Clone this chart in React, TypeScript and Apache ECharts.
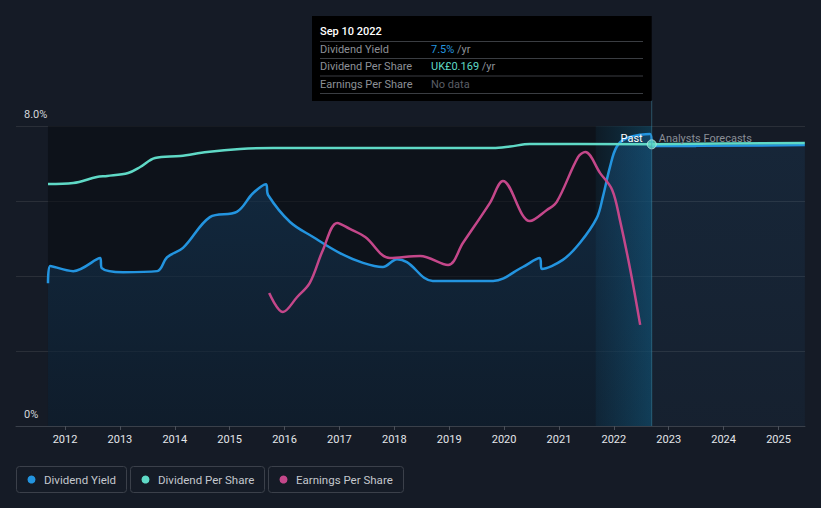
import React, { useEffect, useRef } from "react";
import * as echarts from "echarts";

const yearTicks = [2012, 2013, 2014, 2015, 2016, 2017, 2018, 2019, 2020, 2021, 2022, 2023, 2024, 2025];
const yieldTicks = [0, 2, 4, 6, 8];

// Dividend Yield (%)
const yieldPast: [number, number][] = [
  [2011.69, 3.81], [2011.73, 4.27], [2012.15, 4.13], [2012.64, 4.48], [2012.67, 4.21],
  [2013.06, 4.1], [2013.68, 4.13], [2013.86, 4.5], [2014.15, 4.75], [2014.64, 5.57],
  [2015.13, 5.71], [2015.42, 6.2], [2015.66, 6.45], [2015.7, 6.16], [2016.1, 5.44],
  [2016.52, 5.04], [2017.01, 4.61], [2017.43, 4.35], [2017.79, 4.24], [2018.05, 4.45],
  [2018.23, 4.37], [2018.7, 3.87], [2019.8, 3.87], [2020.34, 4.24], [2020.65, 4.48],
  [2020.69, 4.19], [2021.07, 4.43], [2021.38, 4.88], [2021.69, 5.55], [2021.8, 6.11],
  [2021.93, 6.91], [2022.05, 7.44], [2022.24, 7.68], [2022.66, 7.79], [2022.69, 7.5],
];
const yieldForecast: [number, number][] = [
  [2022.69, 7.47], [2023.5, 7.47], [2025.48, 7.49],
];

// Dividend Per Share (GBP)
const dpsPast: [number, number][] = [
  [2011.69, 0.1452], [2012.15, 0.1458], [2012.58, 0.1494], [2012.77, 0.15], [2013.15, 0.1518],
  [2013.37, 0.1554], [2013.64, 0.1608], [2014.1, 0.162], [2014.59, 0.1644], [2015.19, 0.1662],
  [2015.79, 0.1668], [2019.8, 0.1668], [2020.11, 0.1677], [2020.47, 0.1692], [2022.69, 0.169],
];
const dpsForecast: [number, number][] = [
  [2022.69, 0.169], [2024.0, 0.1695], [2025.48, 0.1698],
];

// Earnings Per Share (GBP)
const epsPast: [number, number][] = [
  [2015.72, 0.0443], [2015.97, 0.038], [2016.23, 0.043], [2016.46, 0.0477], [2016.7, 0.0587],
  [2016.96, 0.0677], [2017.19, 0.0657], [2017.47, 0.063], [2017.92, 0.056], [2018.47, 0.0567],
  [2018.98, 0.0537], [2019.25, 0.061], [2019.74, 0.0743], [2019.98, 0.0817], [2020.47, 0.0683],
  [2020.78, 0.072], [2020.96, 0.0747], [2021.35, 0.0897], [2021.48, 0.0913], [2021.75, 0.0843],
  [2021.97, 0.0787], [2022.11, 0.0687], [2022.3, 0.052], [2022.48, 0.0337],
];

const pastStart = 2011.69;
const forecastZoneStart = 2021.67;
const nowX = 2022.69;
const nowDps = 0.169;

const BLUE = "#2394df";
const TEAL = "#5fd9c6";
const PINK = "#c4478a";
const FONT = "Roboto, 'Noto Sans', sans-serif";

export default function App() {
  const ref = useRef<HTMLDivElement>(null);
  useEffect(() => {
    if (!ref.current) return;
    const chart = echarts.init(ref.current, undefined, { renderer: "svg" });
    const areaGrad = new echarts.graphic.LinearGradient(0, 0, 0, 1, [
      { offset: 0, color: "rgba(35,125,200,0.32)" },
      { offset: 1, color: "rgba(35,125,200,0.14)" },
    ]);
    const areaGrad2 = new echarts.graphic.LinearGradient(0, 0, 0, 1, [
      { offset: 0, color: "rgba(35,125,200,0.16)" },
      { offset: 1, color: "rgba(35,125,200,0.08)" },
    ]);
    const zoneGrad = new echarts.graphic.LinearGradient(0, 0, 1, 0, [
      { offset: 0, color: "rgba(20,130,180,0.08)" },
      { offset: 1, color: "rgba(20,140,190,0.30)" },
    ]);
    chart.setOption({
      animation: false,
      backgroundColor: "#151b26",
      textStyle: { fontFamily: FONT },
      grid: { left: 16, right: 16, top: 126, bottom: 82 },
      xAxis: {
        type: "value",
        min: 2011.107,
        max: 2025.483,
        axisLine: { show: true, lineStyle: { color: "#3a404a", width: 1 } },
        axisTick: { show: true, length: 4, lineStyle: { color: "#4a505a" }, customValues: yearTicks },
        axisLabel: {
          customValues: yearTicks,
          color: "#e4e6ea",
          fontSize: 11,
          margin: 8,
          fontFamily: FONT,
          formatter: (v: number) => String(Math.round(v)),
        },
        splitLine: { show: false },
      },
      yAxis: [
        {
          type: "value",
          min: 0,
          max: 8,
          interval: 2,
          axisLine: { show: false },
          axisTick: { show: false },
          splitLine: { show: true, lineStyle: { color: "#2a2f38", width: 1 } },
          axisLabel: {
            inside: true,
            margin: 8,
            color: "#d4d6da",
            fontSize: 11,
            verticalAlign: "bottom",
            padding: [0, 0, 6, 0],
            formatter: (v: number) => (v === 8 ? "8.0%" : v === 0 ? "0%" : ""),
          },
        },
        { type: "value", min: 0, max: 0.18, show: false },
        { type: "value", min: 0, max: 0.1, show: false },
      ],
      series: [
        {
          type: "line",
          name: "zones",
          data: [],
          z: 1,
          silent: true,
          markArea: {
            silent: true,
            data: [
              [{ xAxis: pastStart, itemStyle: { color: "rgba(8,11,16,0.55)" } }, { xAxis: nowX }],
              [{ xAxis: forecastZoneStart, itemStyle: { color: zoneGrad } }, { xAxis: nowX }],
            ],
          },
        },
        {
          type: "line",
          name: "Dividend Yield",
          data: yieldPast,
          yAxisIndex: 0,
          smooth: 0.35,
          symbol: "none",
          z: 3,
          lineStyle: { color: BLUE, width: 2.5 },
          areaStyle: { color: areaGrad },
        },
        {
          type: "line",
          name: "Dividend Yield Forecast",
          data: yieldForecast,
          yAxisIndex: 0,
          symbol: "none",
          z: 3,
          lineStyle: { color: BLUE, width: 2.5 },
          areaStyle: { color: areaGrad2 },
        },
        {
          type: "line",
          name: "Dividend Per Share",
          data: dpsPast,
          yAxisIndex: 1,
          smooth: 0.35,
          symbol: "none",
          z: 4,
          lineStyle: { color: TEAL, width: 2.5 },
        },
        {
          type: "line",
          name: "Dividend Per Share Forecast",
          data: dpsForecast,
          yAxisIndex: 1,
          symbol: "none",
          z: 4,
          lineStyle: { color: TEAL, width: 2.5 },
        },
        {
          type: "line",
          name: "Earnings Per Share",
          data: epsPast,
          yAxisIndex: 2,
          smooth: 0.35,
          symbol: "none",
          z: 4,
          lineStyle: { color: PINK, width: 2.5 },
        },
        {
          type: "scatter",
          data: [[nowX, nowDps]],
          yAxisIndex: 1,
          symbolSize: 9,
          z: 6,
          itemStyle: { color: TEAL, borderColor: "#bfeee6", borderWidth: 1 },
        },
      ],
    });

    const px = chart.convertToPixel({ xAxisIndex: 0 }, nowX) as number;
    const legendItems = [
      { label: "Dividend Yield", color: BLUE, x: 16, w: 110 },
      { label: "Dividend Per Share", color: TEAL, x: 130, w: 134 },
      { label: "Earnings Per Share", color: PINK, x: 268, w: 135 },
    ];
    const rows = [
      { label: "Dividend Yield", value: "7.5%", valueColor: BLUE, unit: " /yr", y: 49 },
      { label: "Dividend Per Share", value: "UK£0.169", valueColor: TEAL, unit: " /yr", y: 66.5 },
      { label: "Earnings Per Share", value: "No data", valueColor: "#5a5e66", unit: "", y: 84 },
    ];
    const graphics: any[] = [
      {
        type: "line",
        z: 50,
        shape: { x1: px, y1: 100, x2: px, y2: 426 },
        style: { stroke: "rgba(70,150,180,0.45)", lineWidth: 1 },
      },
      {
        type: "text",
        z: 50,
        x: px - 9,
        y: 138,
        style: { text: "Past", fill: "#ffffff", fontSize: 11, fontFamily: FONT, align: "right", verticalAlign: "middle" },
      },
      {
        type: "text",
        z: 50,
        x: px + 7,
        y: 138,
        style: { text: "Analysts Forecasts", fill: "#8a8e96", fontSize: 11, fontFamily: FONT, align: "left", verticalAlign: "middle" },
      },
      {
        type: "rect",
        z: 60,
        shape: { x: 312, y: 16, width: px - 312, height: 85 },
        style: { fill: "#000000" },
      },
      {
        type: "text",
        z: 61,
        x: 320,
        y: 31,
        style: { text: "Sep 10 2022", fill: "#ffffff", fontSize: 11, fontWeight: 500, fontFamily: FONT, verticalAlign: "middle" },
      },
    ];
    [41.5, 58.5, 76, 93.5].forEach((y) => {
      graphics.push({
        type: "line",
        z: 61,
        shape: { x1: 320, y1: y, x2: 643, y2: y },
        style: { stroke: "#3a3d42", lineWidth: 1 },
      });
    });
    rows.forEach((r) => {
      graphics.push({
        type: "text",
        z: 61,
        x: 320,
        y: r.y,
        style: { text: r.label, fill: "#8d9097", fontSize: 11, fontFamily: FONT, verticalAlign: "middle" },
      });
      graphics.push({
        type: "text",
        z: 61,
        x: 431,
        y: r.y,
        style: {
          text: `{v|${r.value}}{u|${r.unit}}`,
          fontFamily: FONT,
          verticalAlign: "middle",
          rich: {
            v: { fill: r.valueColor, fontSize: 11, fontFamily: FONT },
            u: { fill: "#8d9097", fontSize: 11, fontFamily: FONT },
          },
        },
      });
    });
    legendItems.forEach((l) => {
      graphics.push({
        type: "rect",
        z: 40,
        shape: { x: l.x + 0.5, y: 466.5, width: l.w, height: 26, r: 3 },
        style: { fill: "transparent", stroke: "#3b404a", lineWidth: 1 },
      });
      graphics.push({
        type: "circle",
        z: 41,
        shape: { cx: l.x + 15.5, cy: 479.5, r: 4 },
        style: { fill: l.color },
      });
      graphics.push({
        type: "text",
        z: 41,
        x: l.x + 28,
        y: 480,
        style: { text: l.label, fill: "#c4c7cd", fontSize: 11.5, fontFamily: FONT, verticalAlign: "middle" },
      });
    });
    chart.setOption({ graphic: graphics });
    return () => chart.dispose();
  }, []);
  return <div ref={ref} style={{ width: 821, height: 508, position: "absolute", left: 0, top: 0 }} />;
}
